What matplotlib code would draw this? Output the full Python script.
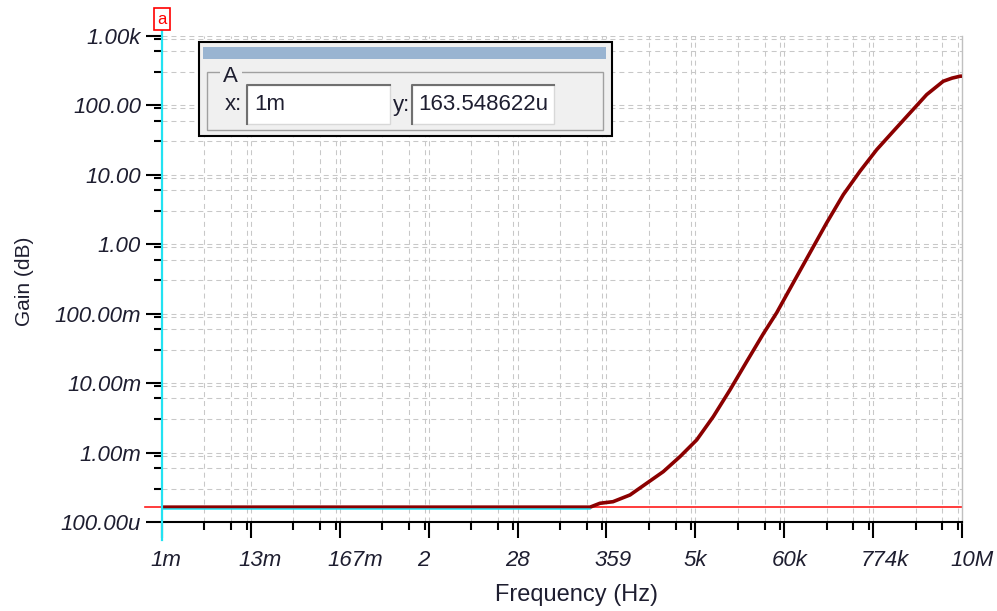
"""
Re-drawing of a TINA-TI style AC transfer plot (Gain vs Frequency, log-log)
with the cursor readout window in the top left corner.
Values were read off the screenshot by eye, so don't expect miracles.
"""

import numpy as np
import matplotlib
matplotlib.use('Agg')
import matplotlib.pyplot as plt
from matplotlib.patches import Rectangle
from matplotlib.ticker import FixedLocator, NullFormatter
from matplotlib.transforms import offset_copy, ScaledTranslation

# --- DATA ---
FREQ_HZ = [1e-3, 224, 298, 434, 708, 1145, 1846, 2985, 4830, 7786, 12590,
           20370, 32830, 48300, 77840, 125900, 203700, 328300, 530900,
           859000, 1.384e6, 2.239e6, 3.62e6, 5.83e6, 7.5e6, 9.44e6, 1e7]
GAIN = [163.5e-6, 163.5e-6, 1.86e-4, 1.96e-4, 2.45e-4, 3.61e-4, 5.31e-4,
        8.73e-4, 1.52e-3, 3.29e-3, 7.98e-3, 0.0204, 0.0512, 0.103, 0.278,
        0.752, 2.03, 5.15, 11.2, 22.9, 42.1, 77.4, 142.0, 221.0, 245.0,
        261.0, 262.0]

X_TICK_LABELS = ['1m', '13m', '167m', '2', '28', '359', '5k', '60k', '774k', '10M']
Y_TICK_LABELS = ['100.00u', '1.00m', '10.00m', '100.00m', '1.00', '10.00', '100.00', '1.00k']

# cursor "a" and its readout
CURSOR_X = 1e-3
CURSOR_Y = 163.548622e-6
CURSOR_H_END = 224          # the cyan part of the horizontal cursor stops here
CURSOR_X_TEXT = '1m'
CURSOR_Y_TEXT = '163.548622u'

# --- LOOK ---
W, H = 997, 611
TXT = '#1e1e30'
GRID = '#c8c8c8'
CURVE = '#8b0000'
CYAN = '#22e2f2'
plt.rcParams['font.family'] = ['Liberation Sans', 'DejaVu Sans']


def fig_box(x0, y0, x1, y1, **kw):
    # rectangle in screen pixels (y down), drawn on the figure
    fig.add_artist(Rectangle((x0 / W, 1 - y1 / H), (x1 - x0) / W, (y1 - y0) / H,
                             transform=fig.transFigure, **kw))


def fig_txt(x, y, s, **kw):
    return fig.text(x / W, 1 - y / H, s, **kw)


fig = plt.figure(figsize=(W / 100, H / 100), dpi=100)
ax = fig.add_axes([162 / W, 1 - 522 / H, 800 / W, (522 - 35.7) / H])
ax.set_xscale('log')
ax.set_yscale('log')
ax.set_xlim(1e-3, 1e7)
ax.set_ylim(1e-4, 1e3)

# TINA puts majors every 10/9 decade on x, minors at 3x, 6x, 9x of the step
x_step = 10 / 9
x_major = 1e-3 * 10 ** (np.arange(10) * x_step)
x_minor = [t * 10 ** (x_step * np.log10(m)) for t in x_major[:-1] for m in (3, 6, 9)]
y_major = 10.0 ** np.arange(-4, 4)
y_minor = [10.0 ** k * m for k in range(-4, 3) for m in (3, 6, 9)]

ax.xaxis.set_major_locator(FixedLocator(x_major))
ax.xaxis.set_minor_locator(FixedLocator(x_minor))
ax.yaxis.set_major_locator(FixedLocator(y_major))
ax.yaxis.set_minor_locator(FixedLocator(y_minor))
ax.xaxis.set_minor_formatter(NullFormatter())
ax.yaxis.set_minor_formatter(NullFormatter())
ax.set_xticklabels(X_TICK_LABELS, fontsize=16, style='italic', color=TXT)
ax.set_yticklabels(Y_TICK_LABELS, fontsize=16, style='italic', color=TXT)

ax.tick_params(which='major', length=11.5, width=1.5, color='black')
ax.tick_params(which='minor', length=6, width=1.5, color='black')
ax.tick_params(axis='x', which='major', pad=9)
ax.tick_params(axis='y', which='major', pad=3.5)

# x labels sit left-aligned, a bit left of their tick
shift = ScaledTranslation(-12 / 100, 0, fig.dpi_scale_trans)
for lab in ax.get_xticklabels():
    lab.set_horizontalalignment('left')
    lab.set_transform(lab.get_transform() + shift)

ax.grid(True, which='both', color=GRID, linewidth=0.75, linestyle=(0, (4.8, 3.8)))
ax.set_axisbelow(True)

ax.spines['top'].set_visible(False)
ax.spines['left'].set_visible(False)
ax.spines['right'].set_color('#c0c0c0')
ax.spines['right'].set_linewidth(1)
ax.spines['bottom'].set_color('black')
ax.spines['bottom'].set_linewidth(1.5)

# horizontal cursor line (red), the cyan bit under the flat part, the curve
ax.plot([-0.021, 1], [CURSOR_Y, CURSOR_Y], color='#ff1a1a', lw=1.2,
        transform=ax.get_yaxis_transform(), clip_on=False, zorder=2)
ax.plot(FREQ_HZ, GAIN, color=CURVE, lw=2.6, zorder=3,
        solid_joinstyle='round', solid_capstyle='butt')
down1 = offset_copy(ax.transData, fig=fig, x=0, y=-1.4, units='dots')
ax.plot([CURSOR_X, CURSOR_H_END], [CURSOR_Y, CURSOR_Y], color=CYAN, lw=1.1,
        transform=down1, zorder=4)

# vertical cursor line, runs a bit past the axes
ax.plot([CURSOR_X, CURSOR_X], [-0.037, 1.012], color=CYAN, lw=1.6,
        transform=ax.get_xaxis_transform(), clip_on=False, zorder=5)
fig_txt(162, 19, 'a', fontsize=12, color='red', ha='center', va='center',
        bbox=dict(boxstyle='square,pad=0.2', fc='white', ec='red', lw=1.2))

# axis titles
fig_txt(576, 595, 'Frequency (Hz)', fontsize=17, color=TXT, ha='center', va='center')
fig_txt(24, 281, 'Gain (dB)', fontsize=15, color=TXT, ha='center', va='center',
        rotation=90)

# --- cursor readout window ---
fig_box(199, 42, 612, 136, fc='#f0f0f0', ec='black', lw=1.5, zorder=10)
fig_box(203, 47, 606, 59, fc='#99b4d1', ec='none', zorder=11)
fig_box(207, 72, 603, 130, fc='none', ec='#a0a0a0', lw=1, zorder=11)
fig_box(220, 68, 242, 78, fc='#f0f0f0', ec='none', zorder=12)
for x0, x1 in ((247, 390), (412, 554)):
    fig_box(x0, 85, x1, 124, fc='white', ec='#d8d8d8', lw=1, zorder=12)
    # sunken edge, darker on top and left
    fig.add_artist(plt.Line2D([x0 / W, x0 / W, x1 / W], [1 - 124 / H, 1 - 85 / H, 1 - 85 / H],
                              transform=fig.transFigure, color='#707070', lw=1.5, zorder=13))
fig_txt(223, 77, 'A', fontsize=16, color=TXT, va='center', zorder=14)
fig_txt(225, 105, 'x:', fontsize=16, color=TXT, va='center', zorder=14)
fig_txt(254, 105, CURSOR_X_TEXT, fontsize=16, color=TXT, va='center', zorder=14)
fig_txt(393, 105, 'y:', fontsize=16, color=TXT, va='center', zorder=14)
fig_txt(418, 105, CURSOR_Y_TEXT, fontsize=16, color=TXT, va='center', zorder=14)

fig.savefig('out.png', dpi=100)
